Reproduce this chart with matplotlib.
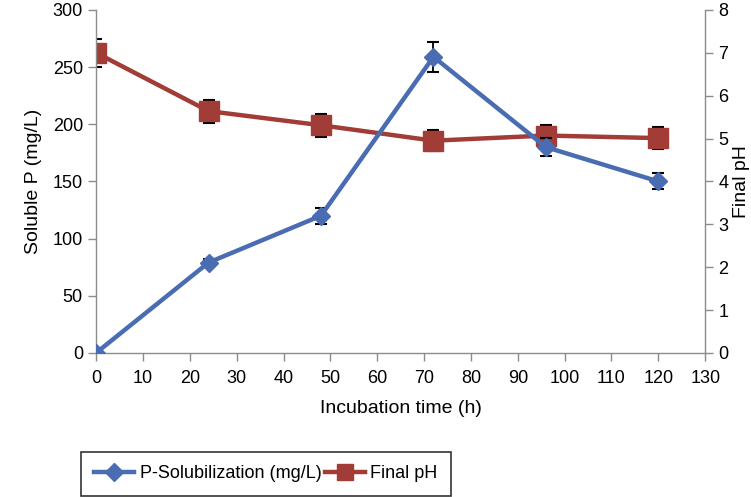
import numpy as np
import matplotlib
matplotlib.use("Agg")
import matplotlib.pyplot as plt
from matplotlib.lines import Line2D

plt.rcParams['font.family'] = ['Liberation Sans Narrow', 'Liberation Sans', 'DejaVu Sans']

# data
time_h = [0, 24, 48, 72, 96, 120]
p_sol = [0, 79, 120, 259, 180, 150]
p_sol_err = [0, 3, 7, 13, 8, 7]
final_ph = [7.0, 5.64, 5.31, 4.95, 5.07, 5.01]
final_ph_err = [0.33, 0.27, 0.27, 0.25, 0.25, 0.25]

x_ticks = list(range(0, 131, 10))
left_ticks = list(range(0, 301, 50))
right_ticks = list(range(0, 9))

blue = '#4A6CB3'
red = '#A13C36'
grey = '#8C8C8C'

fig = plt.figure(figsize=(7.51, 4.97), dpi=100)
ax = fig.add_axes([0.128, 0.290, 0.811, 0.690])
ax2 = ax.twinx()

# P-solubilization on left axis
ax.errorbar(time_h, p_sol, yerr=p_sol_err, color=blue, lw=3.2,
            marker='D', ms=9, mfc=blue, mec=blue,
            ecolor='black', elinewidth=1.3, capsize=4, capthick=1.5, zorder=3)

# final pH on right axis
ax2.errorbar(time_h, final_ph, yerr=final_ph_err, color=red, lw=3.2,
             marker='s', ms=14, mfc=red, mec=red,
             ecolor='black', elinewidth=1.3, capsize=4, capthick=1.5, zorder=3)

ax.set_xlim(0, 130)
ax.set_ylim(0, 300)
ax2.set_ylim(0, 8)
ax.set_xticks(x_ticks)
ax.set_yticks(left_ticks)
ax2.set_yticks(right_ticks)

for a in (ax, ax2):
    a.spines['top'].set_visible(False)
    for s in a.spines.values():
        s.set_color(grey)
        s.set_linewidth(1.0)
    a.tick_params(colors=grey, labelcolor='black', labelsize=13, length=6, width=1.0)
ax.spines['right'].set_visible(False)
ax2.spines['left'].set_visible(False)
ax2.spines['bottom'].set_visible(False)
ax.tick_params(axis='x', pad=6)

ax.set_xlabel('Incubation time (h)', fontsize=14, labelpad=10)
ax.set_ylabel('Soluble P (mg/L)', fontsize=14, labelpad=8)
ax2.set_ylabel('Final pH', fontsize=14, labelpad=3)

ax.set_zorder(ax2.get_zorder() + 1)
ax.patch.set_visible(False)

h1 = Line2D([], [], color=blue, lw=3.2, marker='D', ms=9)
h2 = Line2D([], [], color=red, lw=3.2, marker='s', ms=11)
leg = fig.legend([h1, h2], ['P-Solubilization (mg/L)', 'Final pH'],
                 loc='center', bbox_to_anchor=(0.354, 0.047), ncol=2,
                 fontsize=13, frameon=True, fancybox=False,
                 handlelength=2.2, columnspacing=0.2, handletextpad=0.3,
                 borderpad=0.75)
leg.get_frame().set_edgecolor('black')
leg.get_frame().set_linewidth(1.2)

fig.savefig('out.png', dpi=100)
